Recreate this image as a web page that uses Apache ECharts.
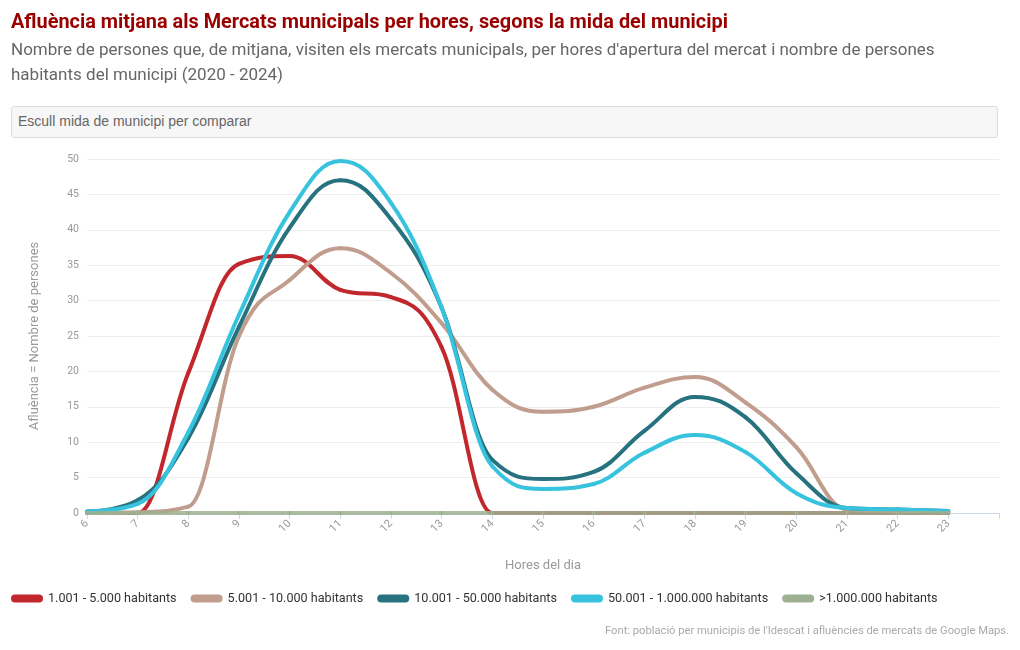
<!DOCTYPE html>
<html>
<head>
<meta charset="utf-8">
<script src="https://cdn.jsdelivr.net/npm/echarts@6/dist/echarts.min.js"></script>
<style>
  html, body { margin: 0; padding: 0; background: #fff; }
  #chart { width: 1020px; height: 650px; position: relative; }
  #sel { position: absolute; left: 11px; top: 106px; width: 987px; height: 32px; box-sizing: border-box;
         background: #f7f7f7; border: 1px solid #dcdcdc; border-radius: 3px;
         font-family: "Liberation Sans", Arial, sans-serif; font-size: 14px; color: #666;
         line-height: 29px; padding-left: 6px; z-index: 2; }
</style>
</head>
<body>
<div id="chart"></div>
<div id="sel">Escull mida de municipi per comparar</div>
<script>
const hours = [6,7,8,9,10,11,12,13,14,15,16,17,18,19,20,21,22,23];
const seriesNames = ['1.001 - 5.000 habitants','5.001 - 10.000 habitants','10.001 - 50.000 habitants','50.001 - 1.000.000 habitants','>1.000.000 habitants'];
const s1 = [0,0,19.8,35.2,36.3,31.5,30.5,23.4,0,0,0,0,0,0,0,0,0,0];
const s2 = [0,0.1,0.9,25,32.9,37.4,33.9,26.8,17.4,14.3,15,17.7,19.2,15.6,9.3,0.5,0.3,0.2];
const s3 = [0.2,1.8,10.6,26.3,40.3,47.0,41.5,29,7.5,4.8,5.8,11.6,16.4,13.5,5.6,0.7,0.5,0.3];
const s4 = [0.2,1.3,11.4,28.0,42.5,49.7,43.8,29,6.6,3.4,4.1,8.5,11.0,8.6,2.8,0.7,0.5,0.3];
const s5 = [0,0,0,0,0,0,0,0,0,0,0,0,0,0,0,0,0,0];
const colors = ['#c1272d','#c19d8d','#27727f','#37c2de','#9db192'];
const allData = [s1,s2,s3,s4,s5];

const FONT = 'Roboto, sans-serif';
const chart = echarts.init(document.getElementById('chart'));

// Spline control points (smoothing 1.5), computed in pixel space from axis coords
function controlPoints(pts, k) {
  const p = pts[k], prev = pts[k - 1], next = pts[k + 1];
  if (!prev || !next) return { l: p.slice(), r: p.slice() };
  const sm = 1.5, den = sm + 1;
  let lx = (sm * p[0] + prev[0]) / den, ly = (sm * p[1] + prev[1]) / den;
  let rx = (sm * p[0] + next[0]) / den, ry = (sm * p[1] + next[1]) / den;
  if (rx !== lx) {
    const c = ((ry - ly) * (rx - p[0])) / (rx - lx) + p[1] - ry;
    ly += c; ry += c;
  }
  if (ly > prev[1] && ly > p[1]) { ly = Math.max(prev[1], p[1]); ry = 2 * p[1] - ly; }
  else if (ly < prev[1] && ly < p[1]) { ly = Math.min(prev[1], p[1]); ry = 2 * p[1] - ly; }
  if (ry > next[1] && ry > p[1]) { ry = Math.max(next[1], p[1]); ly = 2 * p[1] - ry; }
  else if (ry < next[1] && ry < p[1]) { ry = Math.min(next[1], p[1]); ly = 2 * p[1] - ry; }
  return { l: [lx, ly], r: [rx, ry] };
}

const series = allData.map((arr, i) => ({
  name: seriesNames[i],
  type: 'custom',
  coordinateSystem: 'cartesian2d',
  encode: { x: 0, y: 1 },
  data: hours.map((h, j) => [h, arr[j]]),
  itemStyle: { color: colors[i] },
  z: 2 + i,
  renderItem: function (params, api) {
    const j = params.dataIndex;
    if (j === 0) return null;
    const pts = hours.map((h, k) => api.coord([h, arr[k]]));
    const a = controlPoints(pts, j - 1), b = controlPoints(pts, j);
    return {
      type: 'bezierCurve',
      shape: { x1: pts[j - 1][0], y1: pts[j - 1][1], x2: pts[j][0], y2: pts[j][1],
               cpx1: a.r[0], cpy1: a.r[1], cpx2: b.l[0], cpy2: b.l[1] },
      style: { stroke: colors[i], lineWidth: 4, fill: null, lineCap: 'round', opacity: i === 4 ? 0.85 : 1 }
    };
  }
}));

chart.setOption({
  animation: false,
  title: {
    text: 'Afluència mitjana als Mercats municipals per hores, segons la mida del municipi',
    subtext: "Nombre de persones que, de mitjana, visiten els mercats municipals, per hores d'apertura del mercat i nombre de persones\nhabitants del municipi (2020 - 2024)",
    left: 6, top: 8, itemGap: 5,
    textStyle: { fontFamily: FONT, fontWeight: 'bold', fontSize: 19.9, color: '#990000' },
    subtextStyle: { fontFamily: FONT, fontSize: 17, color: '#666', lineHeight: 25 }
  },
  legend: {
    left: 6, top: 587, itemGap: 14, itemWidth: 32, itemHeight: 8,
    icon: 'path://M4,0 L28,0 A4,4 0 0 1 28,8 L4,8 A4,4 0 0 1 4,0 Z',
    textStyle: { fontFamily: FONT, fontSize: 12.6, color: '#333' },
    data: seriesNames
  },
  grid: { left: 87, right: 21, top: 159, bottom: 137, containLabel: false },
  xAxis: {
    type: 'value', min: 6, max: 24, interval: 1,
    name: 'Hores del dia', nameLocation: 'middle', nameGap: 46,
    nameTextStyle: { fontFamily: FONT, fontSize: 13, color: '#999' },
    axisLine: { show: true, lineStyle: { color: '#ccd6eb' } },
    axisTick: { show: true, length: 6, lineStyle: { color: '#ccd6eb' } },
    axisLabel: { rotate: 45, fontFamily: FONT, fontSize: 11, color: '#999', margin: 9,
      formatter: v => v === 24 ? '' : String(v) },
    splitLine: { show: false }
  },
  yAxis: {
    type: 'value', min: 0, max: 50, interval: 5,
    name: 'Afluència = Nombre de persones', nameLocation: 'middle', nameGap: 46,
    nameTextStyle: { fontFamily: FONT, fontSize: 13, color: '#999' },
    axisLine: { show: false }, axisTick: { show: false },
    axisLabel: { fontFamily: FONT, fontSize: 10.5, color: '#999', margin: 8 },
    splitLine: { lineStyle: { color: '#eeeeee' } }
  },
  graphic: [{
    type: 'text', right: 11, top: 626,
    style: { text: "Font: població per municipis de l'Idescat i afluències de mercats de Google Maps.",
      fontFamily: FONT, fontSize: 11.2, fill: '#aaa' }
  }],
  series: series
});
</script>
</body>
</html>
